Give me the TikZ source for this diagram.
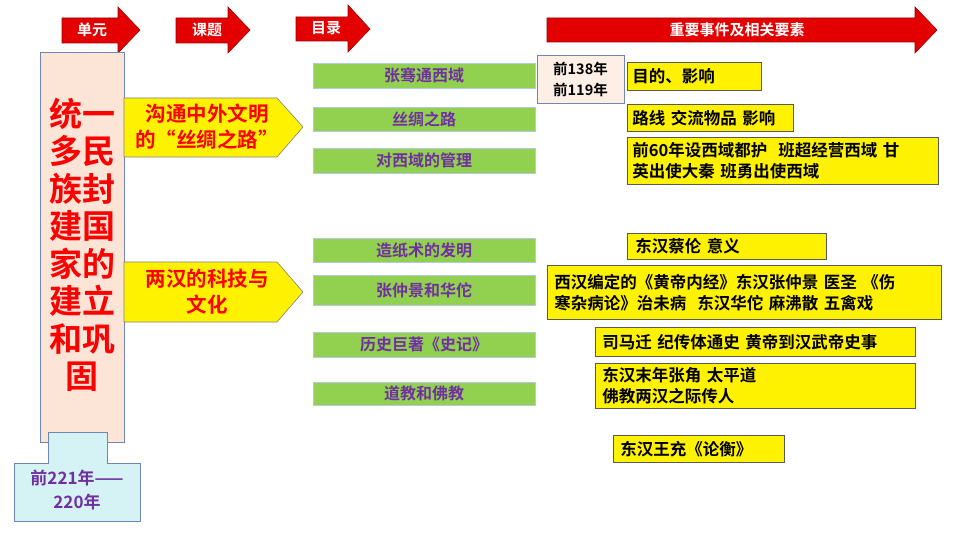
\documentclass[tikz,border=0pt]{standalone}
\usepackage{fontspec}
\newfontfamily\cjk{Noto Sans CJK SC Bold}
\begin{document}
\begin{tikzpicture}[x=1pt,y=-1pt,
  redarrow/.style={fill=red!90!black,draw=red!60!black,line width=0.6pt},
  greenbox/.style={fill=lgreen,draw=lgreenb,line width=0.6pt,text=vpurple,font=\cjk\fontsize{16}{18}\selectfont,inner sep=0pt},
  ybox/.style={fill=yellow,draw=gray!70!black,line width=0.7pt,font=\cjk\fontsize{16.5}{21}\selectfont,inner sep=0pt},
  atxt/.style={text=white,font=\cjk\fontsize{15}{17}\selectfont}]
\definecolor{lgreen}{HTML}{92D050}
\definecolor{lgreenb}{HTML}{B4C7E7}
\definecolor{vpurple}{HTML}{7030A0}
\definecolor{peach}{HTML}{FCE4D6}
\definecolor{lcyan}{HTML}{D5F2F5}
\definecolor{bbord}{HTML}{6F86B6}
\useasboundingbox (0,0) rectangle (960,540);
\fill[white] (0,0) rectangle (960,540);
% header arrows
\draw[redarrow] (62,18)--(118,18)--(118,7)--(140,30)--(118,53)--(118,43)--(62,43)--cycle;
\node[atxt] (a1) at (92,30) {单元};
\draw[redarrow] (176,18)--(228,18)--(228,7)--(250,30)--(228,53)--(228,43)--(176,43)--cycle;
\node[atxt] (a2) at (207,30) {课题};
\draw[redarrow] (296,17)--(348,17)--(348,5)--(370,29)--(348,52)--(348,41)--(296,41)--cycle;
\node[atxt] (a3) at (326,28) {目录};
\draw[redarrow] (547,18)--(915,18)--(915,7)--(937,30)--(915,53)--(915,42)--(547,42)--cycle;
\node[atxt] (a4) at (737,30) {重要事件及相关要素};
% unit box
\draw[fill=peach,draw=bbord,line width=0.7pt] (40,52) rectangle (124,442);
\node[text=red,font=\cjk\fontsize{33}{37.5}\selectfont,align=center] (unit) at (82,245) {统一\\多民\\族封\\建国\\家的\\建立\\和巩\\固};
\draw[fill=lcyan,draw=bbord,line width=0.7pt] (48,432)--(107,432)--(107,463)--(140,463)--(140,521)--(14,521)--(14,463)--(48,463)--cycle;
\node[text=vpurple,font=\cjk\fontsize{17}{24}\selectfont,align=center] (date) at (77,490) {前221年——\\220年};
% pentagons
\draw[fill=yellow,draw=gray,line width=0.6pt] (124,98)--(277,98)--(303,127)--(277,157)--(124,157)--cycle;
\node[text=red,font=\cjk\fontsize{20.5}{26}\selectfont,align=center] (t1) at (207,127) {沟通中外文明\\的“丝绸之路”};
\draw[fill=yellow,draw=gray,line width=0.6pt] (124,262)--(277,262)--(303,292)--(277,322)--(124,322)--cycle;
\node[text=red,font=\cjk\fontsize{20.5}{26}\selectfont,align=center] (t2) at (207,292) {两汉的科技与\\文化};
% green
\node[greenbox,minimum width=222,minimum height=25] (g1) at (424,75.5) {张骞通西域};
\node[greenbox,minimum width=222,minimum height=24] (g2) at (424,119) {丝绸之路};
\node[greenbox,minimum width=222,minimum height=25] (g3) at (424,160.5) {对西域的管理};
\node[greenbox,minimum width=222,minimum height=24] (g4) at (424,250) {造纸术的发明};
\node[greenbox,minimum width=222,minimum height=30] (g5) at (424,290) {张仲景和华佗};
\node[greenbox,minimum width=222,minimum height=25] (g6) at (424,344.5) {历史巨著《史记》};
\node[greenbox,minimum width=222,minimum height=23] (g7) at (424,393.5) {道教和佛教};
% date box
\node[fill=peach!60,draw=bbord,line width=0.7pt,minimum width=87,minimum height=48,align=center,font=\cjk\fontsize{14.5}{21}\selectfont,inner sep=0pt] (d1) at (580.5,79) {前138年\\前119年};
% yellow boxes
\node[ybox,minimum width=134,minimum height=28,anchor=north west,text width=124,align=left,inner xsep=5pt] (y1) at (627,62) {目的、影响};
\node[ybox,minimum width=166,minimum height=27,anchor=north west,text width=156,align=left,inner xsep=5pt] (y2) at (627,104) {路线 交流物品 影响};
\node[ybox,minimum width=311,minimum height=47,anchor=north west,text width=301,align=left,inner xsep=5pt] (y3) at (627,137) {前60年设西域都护\ \ 班超经营西域 甘\\英出使大秦 班勇出使西域};
\node[ybox,minimum width=193,minimum height=26,anchor=north west,text width=183,align=left,inner xsep=8pt] (y4) at (627,233) {东汉蔡伦 意义};
\node[ybox,minimum width=390,minimum height=54,anchor=north west,text width=380,align=left,inner xsep=7pt] (y5) at (547,265) {西汉编定的《黄帝内经》东汉张仲景 医圣 《伤\\寒杂病论》治未病\ \ 东汉华佗 麻沸散 五禽戏};
\node[ybox,minimum width=316,minimum height=29,anchor=north west,text width=306,align=left,inner xsep=7pt] (y6) at (595,327) {司马迁 纪传体通史 黄帝到汉武帝史事};
\node[ybox,minimum width=316,minimum height=45,anchor=north west,text width=306,align=left,inner xsep=7pt] (y7) at (595,363) {东汉末年张角 太平道\\佛教两汉之际传人};
\node[ybox,minimum width=167,minimum height=27,anchor=north west,text width=157,align=left,inner xsep=7pt] (y8) at (613,435) {东汉王充《论衡》};
\end{tikzpicture}
\end{document}
